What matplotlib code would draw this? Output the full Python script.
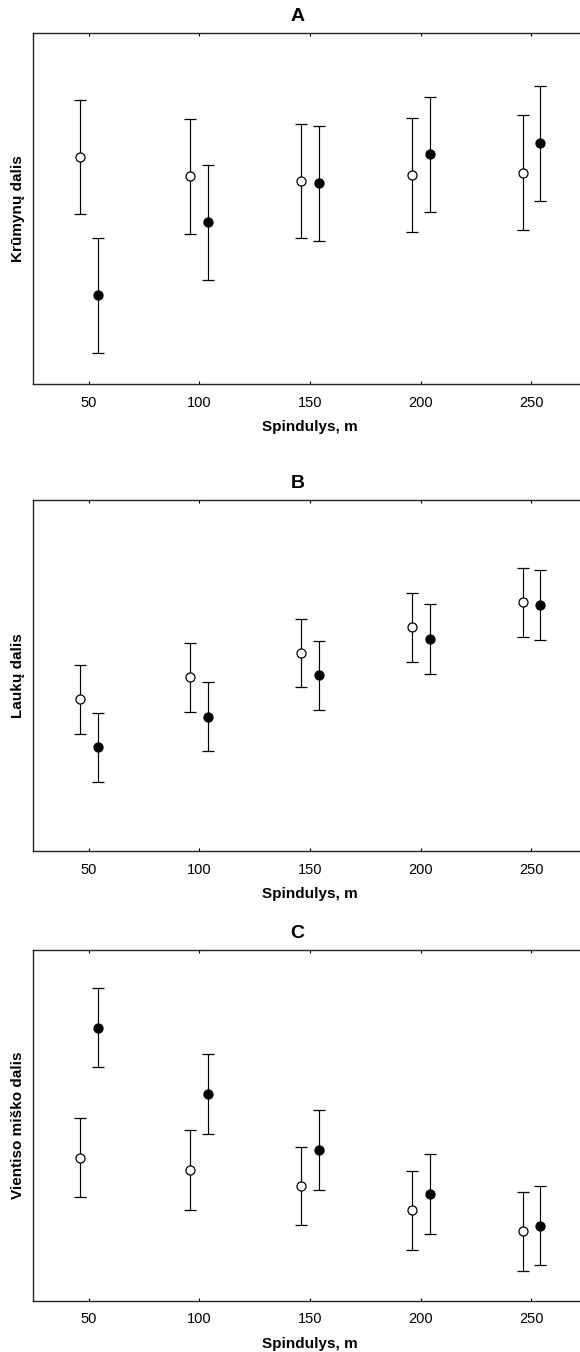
import numpy as np
import matplotlib
matplotlib.use("Agg")
import matplotlib.pyplot as plt

plt.rcParams['font.family'] = ['Liberation Sans', 'DejaVu Sans']

# spindulys (m)
radius = [50, 100, 150, 200, 250]
shift = 4  # horizontal offset of the two groups

# A - krumynu dalis
a_open = [0.648, 0.593, 0.578, 0.595, 0.603]
a_open_err = [0.163, 0.164, 0.163, 0.163, 0.163]
a_fill = [0.253, 0.461, 0.573, 0.655, 0.686]
a_fill_err = [0.164, 0.164, 0.164, 0.164, 0.164]

# B - lauku dalis
b_open = [0.433, 0.495, 0.565, 0.638, 0.709]
b_open_err = [0.098, 0.098, 0.097, 0.098, 0.098]
b_fill = [0.296, 0.383, 0.501, 0.605, 0.701]
b_fill_err = [0.098, 0.099, 0.098, 0.099, 0.099]

# C - vientiso misko dalis
c_open = [0.407, 0.372, 0.326, 0.257, 0.197]
c_open_err = [0.112, 0.113, 0.112, 0.112, 0.112]
c_fill = [0.778, 0.589, 0.429, 0.304, 0.213]
c_fill_err = [0.113, 0.113, 0.113, 0.113, 0.113]

panels = [
    ("A", "Krūmynų dalis", a_open, a_open_err, a_fill, a_fill_err),
    ("B", "Laukų dalis", b_open, b_open_err, b_fill, b_fill_err),
    ("C", "Vientiso miško dalis", c_open, c_open_err, c_fill, c_fill_err),
]

W, H = 580, 1352
fig = plt.figure(figsize=(W / 100, H / 100), dpi=100)

left = 33.3
width = 553.5
height = 350.7
bottoms = [384, 851, 1300.5]

x = np.array(radius, dtype=float)
for (title, ylab, yo, eo, yf, ef), yb in zip(panels, bottoms):
    ax = fig.add_axes([left / W, 1 - yb / H, width / W, height / H])
    ax.errorbar(x - shift, yo, yerr=eo, fmt='o', color='black', mfc='white',
                mec='black', ms=6.5, mew=0.9, elinewidth=0.85, capsize=4.2,
                capthick=0.85)
    ax.errorbar(x + shift, yf, yerr=ef, fmt='o', color='black', mfc='black',
                mec='black', ms=6.5, mew=0.9, elinewidth=0.85, capsize=4.2,
                capthick=0.85)
    ax.set_xlim(25, 275)
    ax.set_ylim(0, 1)
    ax.set_xticks(radius)
    ax.set_yticks([])
    ax.tick_params(axis='x', direction='in', top=True, bottom=True,
                   length=2, width=0.8, pad=8.5, labelsize=10.5)
    for s in ax.spines.values():
        s.set_linewidth(1.0)
        s.set_color('#222222')
    ax.spines['right'].set_visible(False)
    ax.set_title(title, x=0.477, pad=8.5, fontsize=14, fontweight='bold')
    ax.set_xlabel("Spindulys, m", fontsize=11, fontweight='bold')
    ax.xaxis.set_label_coords(0.5, -0.1035)
    ax.set_ylabel(ylab, fontsize=11, fontweight='bold')
    ax.yaxis.set_label_coords(-0.0145, 0.5)

fig.savefig("out.png", dpi=100)
